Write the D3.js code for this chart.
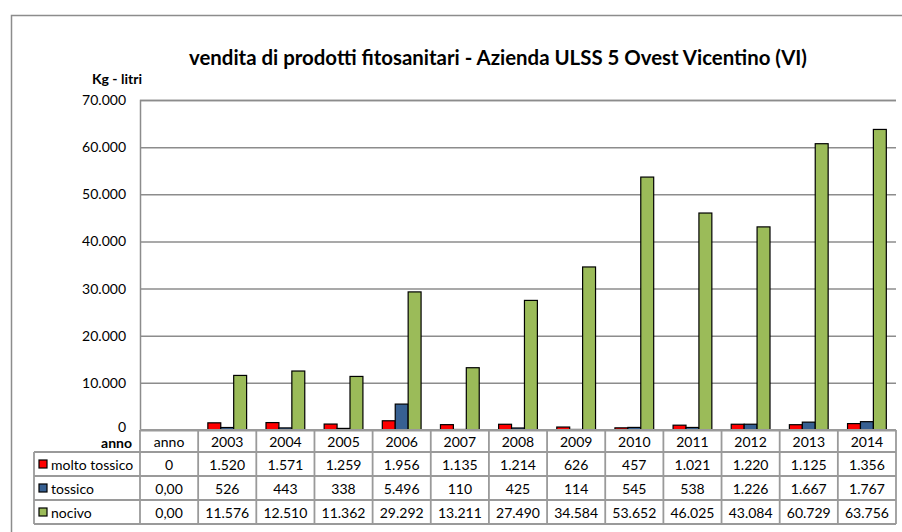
<!DOCTYPE html>
<html lang="it">
<head>
    <meta charset="UTF-8">
    <title>vendita di prodotti fitosanitari</title>
    <script src="https://d3js.org/d3.v7.min.js"></script>
    <style>
        body { margin: 0; background: #fff; }
        text { font-family: Lato, "Open Sans", sans-serif; fill: #000; }
    </style>
</head>
<body>
    <svg width="902" height="532"></svg>
    <script>
        const categories = ["anno", "2003", "2004", "2005", "2006", "2007", "2008", "2009", "2010", "2011", "2012", "2013", "2014"];
        const moltoTossico = [0, 1520, 1571, 1259, 1956, 1135, 1214, 626, 457, 1021, 1220, 1125, 1356];
        const tossico = [0, 526, 443, 338, 5496, 110, 425, 114, 545, 538, 1226, 1667, 1767];
        const nocivo = [0, 11576, 12510, 11362, 29292, 13211, 27490, 34584, 53652, 46025, 43084, 60729, 63756];
        const seriesNames = ["molto tossico", "tossico", "nocivo"];
        const seriesColors = ["#ff0000", "#376092", "#9bbb59"];
        const annoLabels = ["0", "0,00", "0,00"]; // first column shows these as typed
        const yTicks = [0, 10000, 20000, 30000, 40000, 50000, 60000, 70000];

        const series = [moltoTossico, tossico, nocivo];
        const it = d3.formatLocale({decimal: ",", thousands: ".", grouping: [3], currency: ["", "€"]});
        const fmt = it.format(",");

        const svg = d3.select("svg");

        // outer chart frame
        svg.append("rect")
            .attr("x", 11.5).attr("y", 15.5)
            .attr("width", 1000).attr("height", 600)
            .attr("fill", "none").attr("stroke", "#8c8c8c").attr("stroke-width", 1.5);

        const plot = {left: 140, right: 896, top: 100, bottom: 430};
        const rowH = [22, 24, 24, 24];
        const legendLeft = 34;

        const x = d3.scaleBand()
            .domain(categories)
            .range([plot.left, plot.right]);

        const xs = d3.scaleBand()
            .domain(seriesNames)
            .range([0, x.bandwidth()])
            .paddingOuter(0.75);

        const y = d3.scaleLinear()
            .domain([0, 70000])
            .range([plot.bottom, plot.top]);

        // gridlines + y labels
        const yAxis = svg.append("g")
            .attr("transform", `translate(${plot.left},0)`)
            .call(d3.axisLeft(y).tickValues(yTicks).tickFormat(fmt)
                .tickSize(-(plot.right - plot.left)).tickPadding(14));
        yAxis.select(".domain").attr("stroke", "#8c8c8c").attr("stroke-width", 1.5);
        yAxis.selectAll(".tick line").attr("stroke", "#8c8c8c").attr("stroke-width", 1.5);
        yAxis.selectAll(".tick text")
            .style("font-family", "Lato, sans-serif").style("font-size", "14px").attr("fill", "#000");
        yAxis.selectAll(".tick").filter(d => d === 0).select("text").attr("dy", "0.1em");

        // bars
        const groups = svg.selectAll(".cat")
            .data(categories)
            .enter().append("g")
            .attr("class", "cat")
            .attr("transform", d => `translate(${x(d)},0)`);

        groups.selectAll("rect")
            .data((d, i) => series.map((s, k) => ({name: seriesNames[k], value: s[i], color: seriesColors[k]})))
            .enter().append("rect")
            .attr("x", d => xs(d.name))
            .attr("y", d => y(d.value))
            .attr("width", xs.bandwidth())
            .attr("height", d => y(0) - y(d.value))
            .attr("fill", d => d.color)
            .attr("stroke", "#000")
            .attr("stroke-width", 1.2);

        // data table
        const tbl = svg.append("g");
        const rowTop = [plot.bottom];
        rowH.forEach((h, i) => rowTop.push(rowTop[i] + h));
        const lineCol = "#9a9a9a";

        // horizontal lines
        rowTop.forEach((ty, i) => {
            tbl.append("line")
                .attr("x1", i < 1 ? plot.left : legendLeft).attr("x2", plot.right)
                .attr("y1", ty).attr("y2", ty)
                .attr("stroke", lineCol).attr("stroke-width", 1.8);
        });
        // vertical lines
        categories.forEach(c => {
            tbl.append("line")
                .attr("x1", x(c)).attr("x2", x(c))
                .attr("y1", rowTop[0]).attr("y2", rowTop[4])
                .attr("stroke", lineCol).attr("stroke-width", 1.8);
        });
        [legendLeft, plot.right].forEach(vx => {
            tbl.append("line")
                .attr("x1", vx).attr("x2", vx)
                .attr("y1", vx === legendLeft ? rowTop[1] : rowTop[0]).attr("y2", rowTop[4])
                .attr("stroke", lineCol).attr("stroke-width", 1.8);
        });

        // header row
        tbl.append("text")
            .attr("x", plot.left - 8).attr("y", rowTop[0] + rowH[0] / 2 + 2)
            .attr("dy", "0.35em").attr("text-anchor", "end")
            .style("font-size", "14px").style("font-weight", "bold")
            .text("anno");
        categories.forEach(c => {
            tbl.append("text")
                .attr("x", x(c) + x.bandwidth() / 2).attr("y", rowTop[0] + rowH[0] / 2 + 1)
                .attr("dy", "0.35em").attr("text-anchor", "middle")
                .style("font-size", "14px")
                .text(c);
        });

        // series rows
        series.forEach((s, k) => {
            const cy = rowTop[k + 1] + rowH[k + 1] / 2 + 1;
            tbl.append("rect")
                .attr("x", legendLeft + 5).attr("y", cy - 5)
                .attr("width", 8).attr("height", 8)
                .attr("fill", seriesColors[k]).attr("stroke", "#000").attr("stroke-width", 1.2);
            tbl.append("text")
                .attr("x", legendLeft + 17).attr("y", cy)
                .attr("dy", "0.35em")
                .style("font-size", "14px")
                .text(seriesNames[k]);
            categories.forEach((c, i) => {
                tbl.append("text")
                    .attr("x", x(c) + x.bandwidth() / 2).attr("y", cy)
                    .attr("dy", "0.35em").attr("text-anchor", "middle")
                    .style("font-size", "14px")
                    .text(i === 0 ? annoLabels[k] : fmt(s[i]));
            });
        });

        // titles
        svg.append("text")
            .attr("x", 498).attr("y", 58)
            .attr("dy", "0.35em").attr("text-anchor", "middle")
            .style("font-size", "20.4px").style("font-weight", "bold")
            .text("vendita di prodotti fitosanitari - Azienda ULSS 5 Ovest Vicentino (VI)");

        svg.append("text")
            .attr("x", 117).attr("y", 79)
            .attr("dy", "0.35em").attr("text-anchor", "middle")
            .style("font-size", "14px").style("font-weight", "bold")
            .text("Kg - litri");
    </script>
</body>
</html>
